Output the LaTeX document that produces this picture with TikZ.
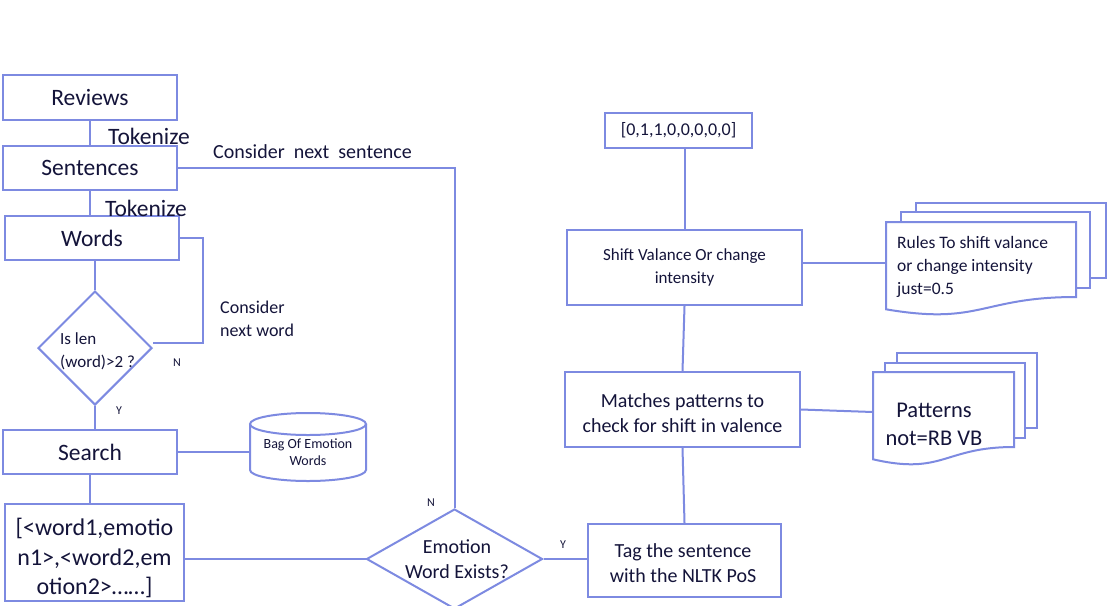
\documentclass[tikz,border=0pt]{standalone}
\usepackage{fontspec}
\setmainfont{Carlito}
\usetikzlibrary{shapes.geometric}
\definecolor{lc}{RGB}{125,138,225}
\definecolor{tc}{RGB}{20,20,58}
\tikzset{
  box/.style={draw=lc, line width=2pt, fill=white, text=tc, align=center, inner sep=0pt},
  conn/.style={draw=lc, line width=2pt},
  lbl/.style={text=tc, inner sep=0pt},
  fs/.style n args={2}{font=\fontsize{#1}{#2}\selectfont},
  page/.style={draw=lc, line width=2pt, fill=white},
}
\begin{document}
\begin{tikzpicture}[x=1pt,y=1pt]
\useasboundingbox[fill=white] (0,0) rectangle (1107,-605);

% left column
\node[box, minimum width=174, minimum height=45, fs={23.5}{28}] (rev) at (90,-97.5) {Reviews};
\node[box, minimum width=174, minimum height=44, fs={23.5}{28}] (sen) at (90,-168) {Sentences};
\node[box, minimum width=174, minimum height=44, fs={23.5}{28}] (wor) at (92,-238) {Words};
\node[draw=lc, line width=2pt, fill=white, diamond, inner sep=0pt, minimum width=114, minimum height=114] (dia1) at (95,-348) {};
\node[lbl, anchor=west, align=left, fs={17}{23}] (dia1txt) at (60,-351) {Is len\\(word)>2 ?};
\node[box, minimum width=174, minimum height=44, fs={23.5}{28}] (search) at (90,-452) {Search};
\node[box, minimum width=179, minimum height=97] (list) at (94.5,-552.5) {};
\node[lbl, align=center, fs={24}{29.5}] (listtxt) at (94.5,-558) {[<word1,emotio\\n1>,<word2,em\\otion2>……]};

% cylinder
\draw[page] (250,-424) -- (250,-470) arc[start angle=180,end angle=360,x radius=58,y radius=11] -- (366,-424);
\draw[page] (308,-424) ellipse[x radius=58, y radius=11];
\node[lbl, minimum width=116, minimum height=56, align=center, fs={14}{17}] (bag) at (308,-452) {Bag Of Emotion\\Words};

% emotion diamond
\node[draw=lc, line width=2pt, fill=white, diamond, inner sep=0pt, minimum width=176, minimum height=100] (dia2) at (454.5,-559) {};
\node[lbl, align=center, fs={20}{25}] (dia2txt) at (457,-559.5) {Emotion\\Word Exists?};

% right column
\node[box, minimum width=193, minimum height=73] (tag) at (684.5,-560.5) {};
\node[lbl, align=center, fs={20}{25}] (tagtxt) at (683,-563.5) {Tag the sentence\\with the NLTK PoS};
\node[box, minimum width=235, minimum height=75] (match) at (682.5,-409.5) {};
\node[lbl, align=center, fs={20}{25}] (matchtxt) at (682.5,-413.5) {Matches patterns to\\check for shift in valence};
\node[box, minimum width=235, minimum height=75, fs={17}{23}] (shift) at (684.5,-267.5) {Shift Valance Or change\\intensity};
\node[box, minimum width=147, minimum height=35, fs={18}{22}] (vec) at (678.5,-130) {[0,1,1,0,0,0,0,0]};

% rules document
\draw[page] (916,-203) rectangle (1106,-278);
\draw[page] (901,-212) rectangle (1090,-288);
\draw[page] (886,-222) -- (1076,-222) -- (1076,-297) .. controls (981,-297) and (981,-325.5) .. (886,-309.3) -- cycle;
\node[inner sep=0pt, minimum width=190, minimum height=82] (rules) at (981,-263) {};
\node[lbl, anchor=west, align=left, fs={17.5}{23}] (rulestxt) at (897,-267) {Rules To shift valance\\or change intensity\\just=0.5};

% patterns document
\draw[page] (897,-353) rectangle (1037,-428);
\draw[page] (885,-363) rectangle (1025,-438);
\draw[page] (873,-372) -- (1014,-372) -- (1014,-447) .. controls (943.5,-447) and (943.5,-475.5) .. (873,-459.3) -- cycle;
\node[inner sep=0pt, minimum width=141, minimum height=80] (pat) at (943.5,-412) {};
\node[lbl, align=center, fs={22.5}{28}] (pattxt) at (934,-424) {Patterns\\not=RB VB};

% connectors
\draw[conn] (rev.south) -- (rev.south |- sen.north);
\draw[conn] (sen.south) -- (sen.south |- wor.north);
\draw[conn] (dia1.north) -- (dia1.north |- wor.south);
\coordinate (loop) at (203,-343);
\draw[conn] (wor.east) -| (loop) -- (loop -| dia1.east);
\draw[conn] (dia1.south) -- (dia1.south |- search.north);
\draw[conn] (search.east) -- (search.east -| bag.west);
\draw[conn] (search.south) -- (search.south |- list.north);
\draw[conn] (list.east |- dia2.west) -- (dia2.west);
\draw[conn] (dia2.north) |- (sen.east);
\draw[conn] (dia2.east) -- (dia2.east -| tag.west);
\draw[conn] (tag.north) -- (match.south);
\draw[conn] (match.east) -- (pat.west);
\draw[conn] (match.north) -- (shift.south);
\draw[conn] (shift.east |- rules.west) -- (rules.west);
\draw[conn] (shift.north) -- (shift.north |- vec.south);

% labels
\node[lbl, anchor=west, fs={23.5}{28}] (tok1) at (108,-136) {Tokenize};
\node[lbl, anchor=west, fs={23.5}{28}] (tok2) at (105,-208) {Tokenize};
\node[lbl, anchor=west, fs={20}{24}] (cns) at (213,-152) {Consider\ \ next\ \ sentence};
\node[lbl, anchor=west, align=left, fs={18}{23}] (cnw) at (220,-318.5) {Consider\\next word};
\node[lbl, fs={12}{14}] (n1) at (177,-363) {N};
\node[lbl, fs={12}{14}] (y1) at (119,-411) {Y};
\node[lbl, fs={12}{14}] (n2) at (431,-503) {N};
\node[lbl, fs={12}{14}] (y2) at (563,-545) {Y};
\end{tikzpicture}
\end{document}
